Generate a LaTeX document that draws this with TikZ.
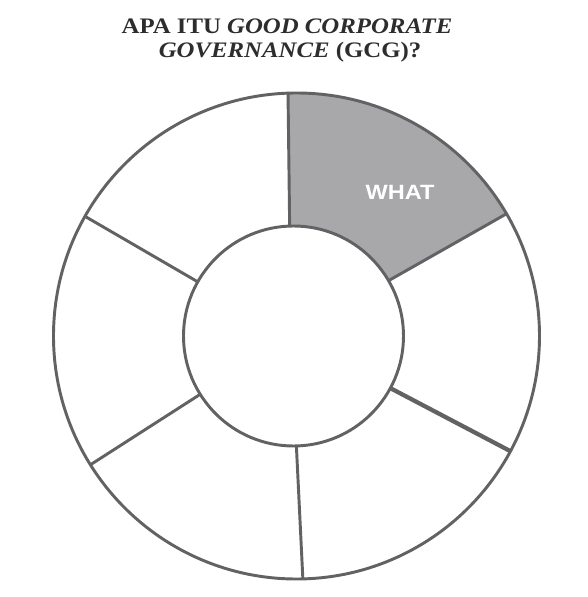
\documentclass[tikz,border=0pt]{standalone}
\usepackage{fontspec}
\setmainfont{Liberation Serif}
\newfontfamily\whatfont{Liberation Sans}
\usetikzlibrary{calc}
\definecolor{ringline}{RGB}{98,98,100}
\definecolor{segfill}{RGB}{168,168,171}
\definecolor{titlecol}{RGB}{45,45,45}
\tikzset{
  ringstroke/.style={draw=ringline, line width=2.2pt},
  divider/.style={draw=ringline, line width=2.2pt},
  titletext/.style={anchor=base, inner sep=0pt, text=titlecol, font=\fontsize{16.6}{20}\selectfont\bfseries},
  segtext/.style={anchor=center, inner sep=0pt, text=white, font=\whatfont\fontsize{15.5}{18}\selectfont\bfseries}
}
\begin{document}
\begin{tikzpicture}[x=0.75pt,y=0.75pt]
\useasboundingbox (0,0) rectangle (588,597);
\coordinate (oc) at (296.5,261);
\coordinate (ic) at (293.5,261);
% shaded segment
\fill[segfill] ($(oc)+(92:243)$) arc[start angle=92, end angle=30.2, radius=243]
  -- ($(ic)+(30.2:110)$) arc[start angle=30.2, end angle=92, radius=110] -- cycle;
% circles
\node[circle, ringstroke, minimum size=486*0.75pt, inner sep=0pt] (outer) at (oc) {};
\node[circle, ringstroke, minimum size=220*0.75pt, inner sep=0pt] (inner) at (ic) {};
% dividers
\foreach \a/\w in {92/2.2, 30.2/2.2, -28.3/3.2, -88.5/2.2, 212/2.2, 150.5/2.2}{
  \draw[divider, line width=\w pt] ($(ic)+(\a:110)$) -- ($(oc)+(\a:243)$);
}
\node[segtext] (what) at (400,405) {\scalebox{1.14}[1]{WHAT}};
\node[titletext] (t1) at (287,563) {\scalebox{1.12}[1]{APA ITU \textit{GOOD CORPORATE}}};
\node[titletext] (t2) at (290,539) {\scalebox{1.12}[1]{\textit{GOVERNANCE} (GCG)?}};
\end{tikzpicture}
\end{document}
